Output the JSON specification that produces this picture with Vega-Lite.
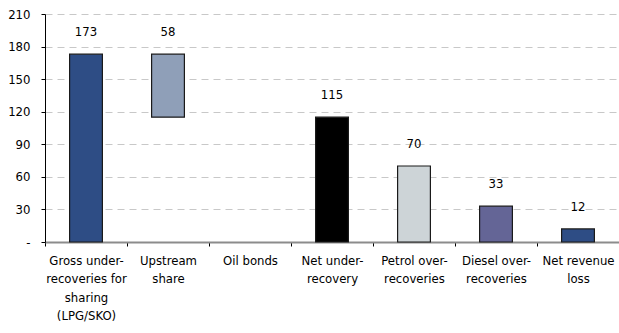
{
  "$schema": "https://vega.github.io/schema/vega-lite/v6.json",
  "autosize": "none",
  "width": 574,
  "height": 228,
  "padding": {"left": 45, "top": 14, "right": 0, "bottom": 91},
  "background": "white",
  "config": {
    "font": "DejaVu Sans Condensed, Liberation Sans Narrow, sans-serif",
    "view": {"stroke": null}
  },
  "data": {
    "values": [
      {"cat": "Gross under-|recoveries for|sharing|(LPG/SKO)", "start": 0, "end": 173, "value": 173},
      {"cat": "Upstream|share", "start": 115, "end": 173, "value": 58},
      {"cat": "Net under-|recovery", "start": 0, "end": 115, "value": 115},
      {"cat": "Petrol over-|recoveries", "start": 0, "end": 70, "value": 70},
      {"cat": "Diesel over-|recoveries", "start": 0, "end": 33, "value": 33},
      {"cat": "Net revenue|loss", "start": 0, "end": 12, "value": 12}
    ]
  },
  "encoding": {
    "x": {
      "field": "cat",
      "type": "nominal",
      "scale": {
        "domain": ["Gross under-|recoveries for|sharing|(LPG/SKO)", "Upstream|share", "Oil bonds", "Net under-|recovery", "Petrol over-|recoveries", "Diesel over-|recoveries", "Net revenue|loss"],
        "paddingInner": 0,
        "paddingOuter": 0
      },
      "axis": {
        "title": null,
        "labelAngle": 0,
        "labelExpr": "split(datum.label, '|')",
        "labelFontSize": 13,
        "labelColor": "#000",
        "labelLineHeight": 18.5,
        "labelPadding": 8,
        "labelBaseline": "top",
        "tickBand": "extent",
        "tickColor": "#000",
        "tickSize": 4,
        "domainColor": "#8c8c8c",
        "domainWidth": 2,
        "grid": false,
        "labelLimit": 200
      }
    },
    "y": {
      "field": "end",
      "type": "quantitative",
      "scale": {"domain": [0, 210], "nice": false},
      "axis": {
        "title": null,
        "values": [0, 30, 60, 90, 120, 150, 180, 210],
        "labelExpr": "datum.value == 0 ? '-\u00a0\u00a0\u00a0\u00a0' : datum.label",
        "labelFontSize": 13,
        "labelColor": "#000",
        "labelPadding": 11,
        "labelOverlap": false,
        "tickSize": 4,
        "tickColor": "#000",
        "domainColor": "#000",
        "domainWidth": 1,
        "gridColor": "#c8c8c8",
        "gridDash": [7, 5],
        "gridWidth": 1
      }
    }
  },
  "layer": [
    {
      "mark": {"type": "bar", "width": {"band": 0.4}, "stroke": "#1a1a1a", "strokeWidth": 1.2},
      "encoding": {
        "y2": {"field": "start"},
        "color": {
          "field": "cat",
          "type": "nominal",
          "legend": null,
          "scale": {
            "domain": ["Gross under-|recoveries for|sharing|(LPG/SKO)", "Upstream|share", "Net under-|recovery", "Petrol over-|recoveries", "Diesel over-|recoveries", "Net revenue|loss"],
            "range": ["#2e4d85", "#8f9fb8", "#000000", "#cdd4d7", "#646596", "#2e4d85"]
          }
        }
      }
    },
    {
      "mark": {"type": "text", "dy": -22, "fontSize": 13, "color": "#000", "baseline": "middle"},
      "encoding": {
        "text": {"field": "value", "type": "quantitative"}
      }
    }
  ]
}
